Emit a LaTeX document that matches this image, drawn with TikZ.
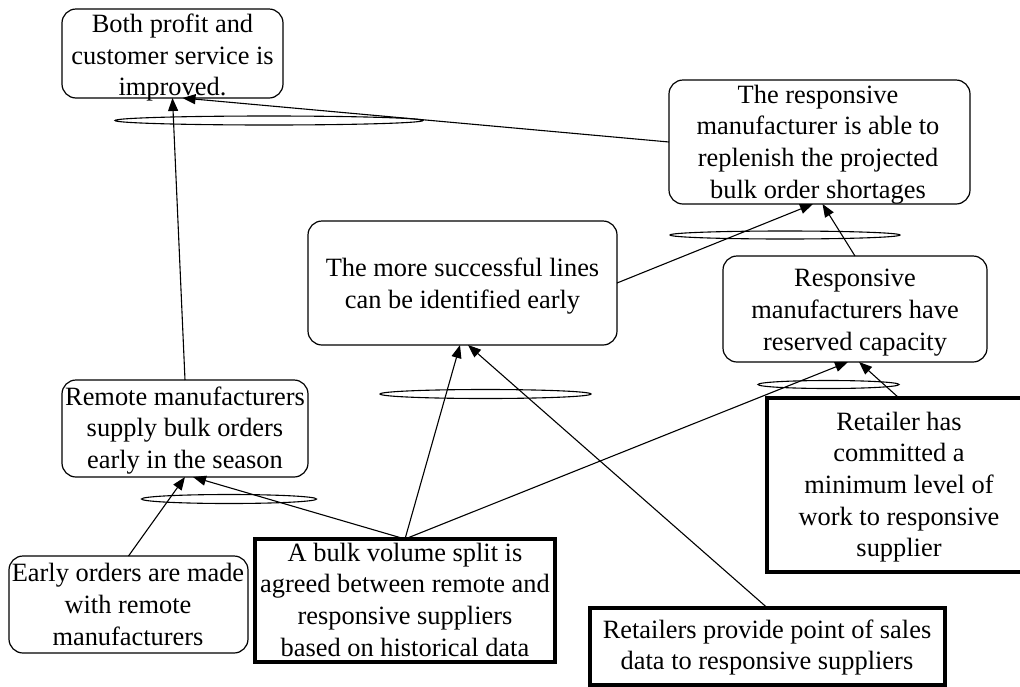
\documentclass[tikz,border=0pt]{standalone}
\usepackage{fontspec}
\setmainfont{Liberation Serif}
\usetikzlibrary{arrows.meta,shapes.geometric}
\begin{document}
\begin{tikzpicture}[x=1pt,y=-1pt,
  every node/.style={inner sep=0pt, outer sep=0pt},
  softbox/.style={draw, rounded corners=14pt, line width=1.2pt},
  firmbox/.style={draw, line width=3.2pt},
  txt/.style={align=center, font=\fontsize{26.4}{31.7}\selectfont},
  andlink/.style={draw, ellipse, line width=1.1pt},
  link/.style={line width=1.1pt, -{Triangle[length=13pt,width=10pt]}}]
\useasboundingbox (0,0) rectangle (1020,686);

% boxes
\node[softbox, minimum width=221, minimum height=89]  (n1) at (172.5,53.5) {};
\node[softbox, minimum width=301, minimum height=124] (n2) at (819.5,142) {};
\node[softbox, minimum width=309, minimum height=124] (n3) at (462.5,283) {};
\node[softbox, minimum width=264, minimum height=106] (n4) at (855,309) {};
\node[softbox, minimum width=246, minimum height=97]  (n5) at (185,428.5) {};
\node[firmbox, minimum width=264, minimum height=174] (n6) at (899,485) {};
\node[softbox, minimum width=239, minimum height=97]  (n7) at (128.5,604.5) {};
\node[firmbox, minimum width=300, minimum height=123] (n8) at (405,600.5) {};
\node[firmbox, minimum width=355, minimum height=77]  (n9) at (767.5,646.5) {};

% texts
\node[txt] (t1) at (172.5,57.7) {\strut Both profit and\\\strut customer service is\\\strut improved.};
\node[txt] (t2) at (818,144.5) {\strut The responsive\\\strut manufacturer is able to\\\strut replenish the projected\\\strut bulk order shortages};
\node[txt] (t3) at (462.5,286.2) {\strut The more successful lines\\\strut can be identified early};
\node[txt] (t4) at (855,312) {\strut Responsive\\\strut manufacturers have\\\strut reserved capacity};
\node[txt] (t5) at (185,430.4) {\strut Remote manufacturers\\\strut supply bulk orders\\\strut early in the season};
\node[txt] (t6) at (899,487.1) {\strut Retailer has\\\strut committed a\\\strut minimum level of\\\strut work to responsive\\\strut supplier};
\node[txt] (t7) at (128,607.1) {\strut Early orders are made\\\strut with remote\\\strut manufacturers};
\node[txt] (t8) at (405,602.2) {\strut A bulk volume split is\\\strut agreed between remote and\\\strut responsive suppliers\\\strut based on historical data};
\node[txt] (t9) at (767,647.5) {\strut Retailers provide point of sales\\\strut data to responsive suppliers};

% conjunction ellipses
\node[andlink, minimum width=308, minimum height=9] (e1) at (269,120.5) {};
\node[andlink, minimum width=230, minimum height=8] (e2) at (785,235) {};
\node[andlink, minimum width=211, minimum height=9] (e3) at (485.5,394) {};
\node[andlink, minimum width=141, minimum height=8] (e4) at (828.5,384.5) {};
\node[andlink, minimum width=175, minimum height=9] (e5) at (229,499) {};

% connectors
\draw[link] (n5.north) -- (n1.south);
\draw[link] (n2.west) -- ([xshift=10pt]n1.south);
\draw[link] (n3.east) -- ([xshift=-6.5pt]n2.south);
\draw[link] (n4.north) -- ([xshift=3pt]n2.south);
\draw[link] (n6.north) -- ([xshift=4pt]n4.south);
\draw[link] (n8.north) -- ([xshift=-7pt]n4.south);
\draw[link] (n8.north) -- ([xshift=-2.5pt]n3.south);
\draw[link] (n8.north) -- ([xshift=8pt]n5.south);
\draw[link] (n7.north) -- (n5.south);
\draw[link] (n9.north) -- ([xshift=5.5pt]n3.south);
\end{tikzpicture}
\end{document}
